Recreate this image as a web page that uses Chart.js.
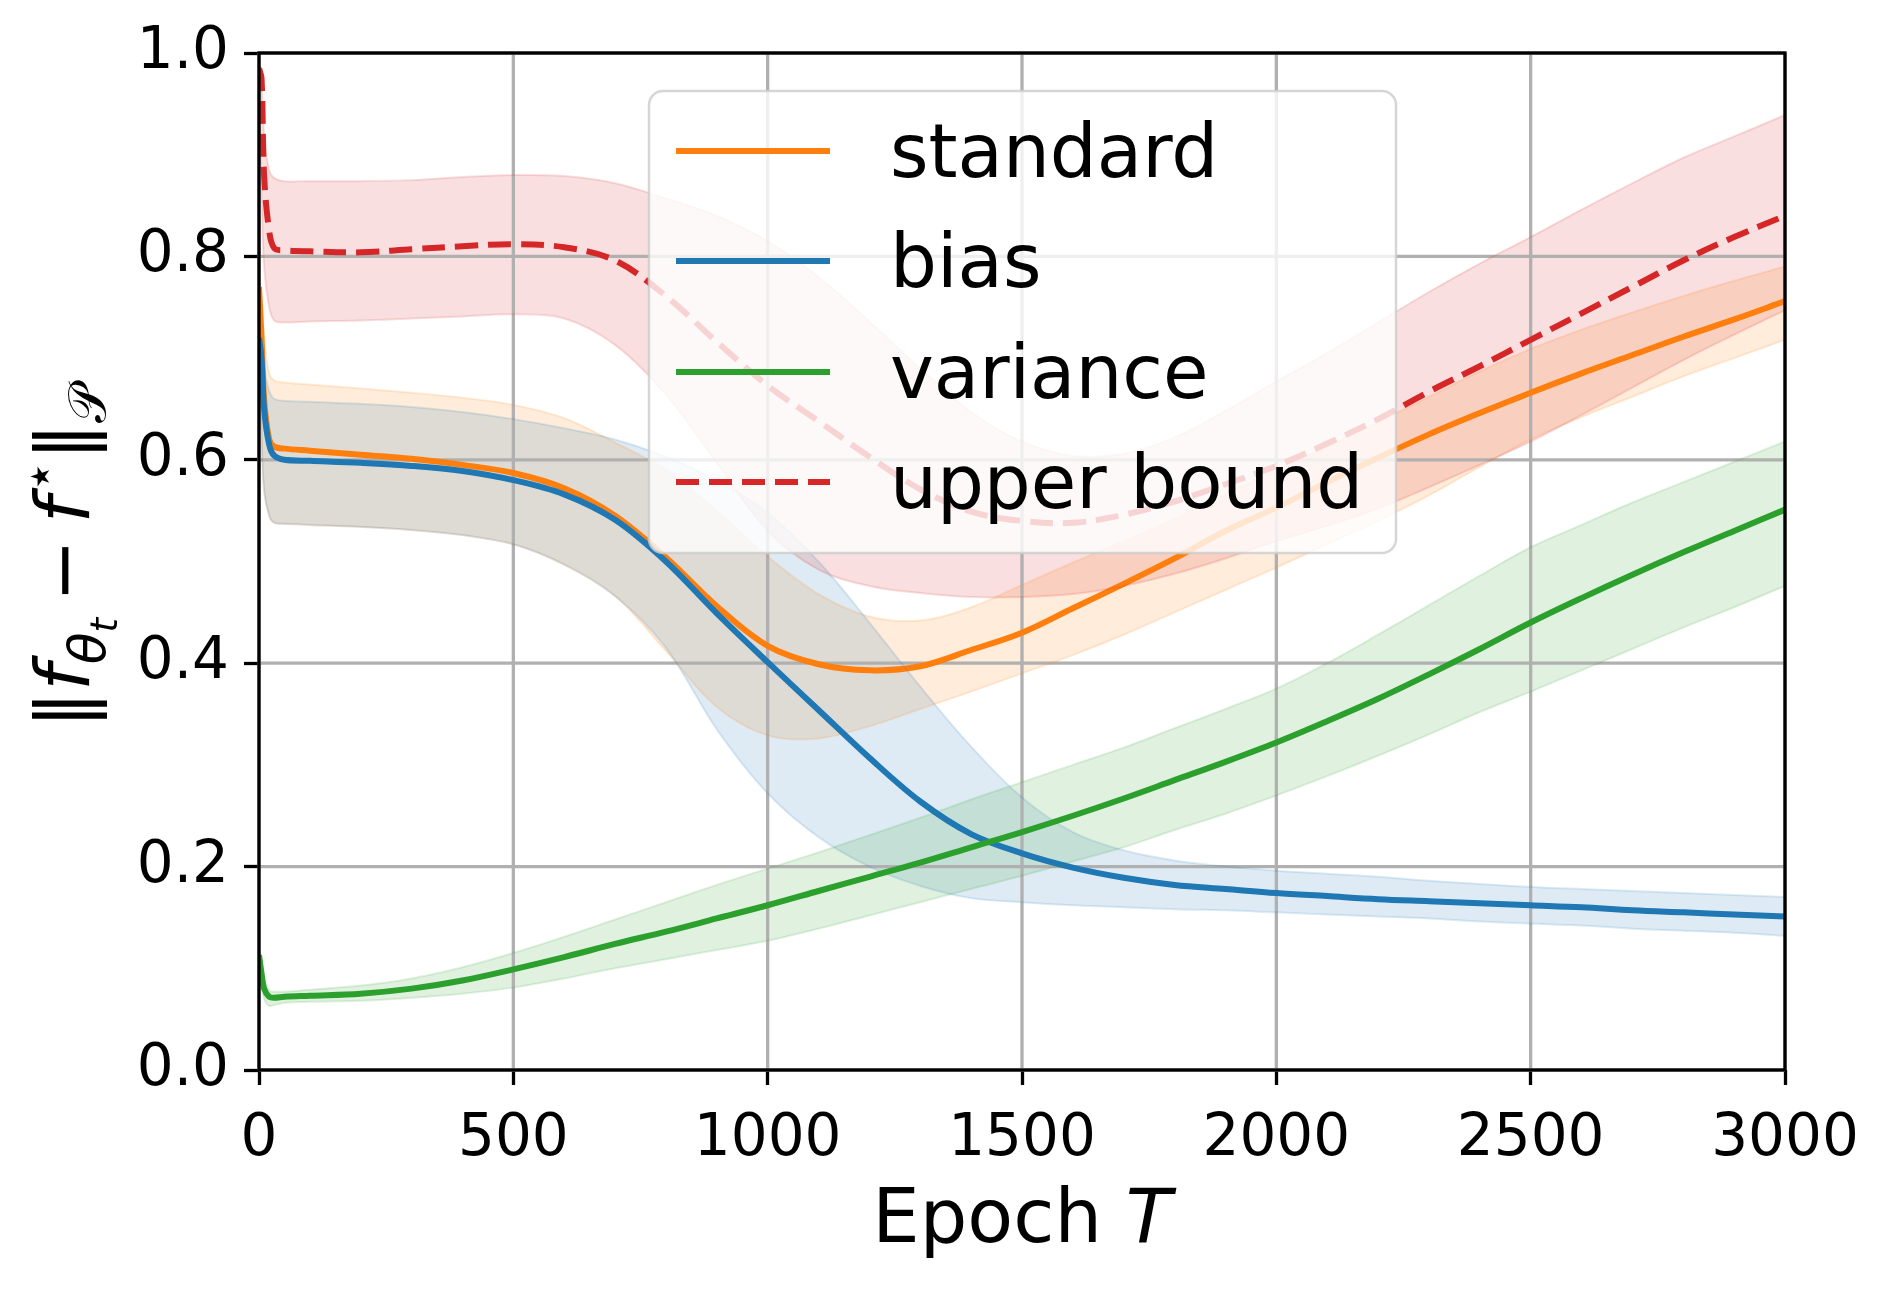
<!DOCTYPE html>
<html>
<head>
<meta charset="utf-8">
<script src="https://cdn.jsdelivr.net/npm/chart.js@4.4.0/dist/chart.umd.min.js"></script>
<style>
  html, body { margin: 0; padding: 0; background: #fff; }
</style>
</head>
<body>
<canvas id="myChart" width="1890" height="1290" style="width:1890px;height:1290px;display:block"></canvas>
<script>
// epochs shared by all curves
const epochs = [0, 5, 10, 20, 30, 50,
  100, 200, 300, 400, 500, 600, 700, 800, 900, 1000,
  1100, 1200, 1300, 1400, 1500, 1600, 1700, 1800, 1900, 2000,
  2100, 2200, 2300, 2400, 2500, 2600, 2700, 2800, 2900, 3000];

// standard
const standardMean = [0.77, 0.72, 0.66, 0.62, 0.613, 0.611,
  0.609, 0.605, 0.601, 0.595, 0.587, 0.572, 0.545, 0.504, 0.456, 0.417,
  0.399, 0.393, 0.397, 0.413, 0.43, 0.454, 0.478, 0.503, 0.53, 0.553,
  0.578, 0.602, 0.625, 0.646, 0.666, 0.685, 0.703, 0.721, 0.738, 0.756];
const standardHi = [0.78, 0.76, 0.72, 0.685, 0.678, 0.676,
  0.674, 0.670, 0.666, 0.661, 0.654, 0.641, 0.617, 0.59, 0.55, 0.505,
  0.468, 0.446, 0.442, 0.455, 0.477, 0.499, 0.52, 0.542, 0.566, 0.59,
  0.613, 0.637, 0.662, 0.687, 0.709, 0.728, 0.745, 0.761, 0.776, 0.79];
const standardLo = [0.76, 0.63, 0.57, 0.545, 0.538, 0.537,
  0.536, 0.534, 0.531, 0.526, 0.517, 0.497, 0.466, 0.412, 0.357, 0.329,
  0.326, 0.338, 0.355, 0.372, 0.39, 0.408, 0.428, 0.45, 0.472, 0.494,
  0.517, 0.54, 0.565, 0.593, 0.62, 0.642, 0.662, 0.682, 0.70, 0.718];

// bias
const biasMean = [0.72, 0.70, 0.65, 0.615, 0.604, 0.600,
  0.599, 0.597, 0.594, 0.589, 0.58, 0.566, 0.541, 0.50, 0.449, 0.401,
  0.354, 0.307, 0.264, 0.232, 0.213, 0.199, 0.189, 0.182, 0.178, 0.174,
  0.171, 0.168, 0.166, 0.164, 0.162, 0.16, 0.157, 0.155, 0.153, 0.151];
const biasHi = [0.73, 0.71, 0.69, 0.668, 0.66, 0.658,
  0.657, 0.655, 0.652, 0.647, 0.64, 0.631, 0.62, 0.603, 0.58, 0.548,
  0.50, 0.44, 0.377, 0.318, 0.268, 0.234, 0.216, 0.206, 0.2, 0.196,
  0.193, 0.19, 0.186, 0.183, 0.18, 0.178, 0.176, 0.174, 0.172, 0.17];
const biasLo = [0.70, 0.62, 0.57, 0.545, 0.538, 0.537,
  0.536, 0.534, 0.531, 0.526, 0.517, 0.497, 0.466, 0.415, 0.335, 0.272,
  0.229, 0.2, 0.181, 0.169, 0.165, 0.162, 0.16, 0.158, 0.157, 0.155,
  0.153, 0.151, 0.149, 0.146, 0.144, 0.142, 0.139, 0.137, 0.135, 0.132];

// variance
const varianceMean = [0.113, 0.095, 0.08, 0.072, 0.071, 0.072,
  0.073, 0.075, 0.08, 0.088, 0.099, 0.111, 0.124, 0.136, 0.149, 0.162,
  0.176, 0.19, 0.204, 0.219, 0.234, 0.25, 0.267, 0.285, 0.303, 0.322,
  0.343, 0.365, 0.389, 0.414, 0.44, 0.464, 0.487, 0.509, 0.53, 0.551];
const varianceHi = [0.12, 0.105, 0.09, 0.078, 0.077, 0.077,
  0.079, 0.083, 0.09, 0.101, 0.115, 0.131, 0.148, 0.165, 0.182, 0.198,
  0.214, 0.231, 0.248, 0.266, 0.283, 0.3, 0.317, 0.336, 0.355, 0.375,
  0.4, 0.428, 0.457, 0.486, 0.514, 0.536, 0.558, 0.578, 0.598, 0.618];
const varianceLo = [0.11, 0.085, 0.07, 0.063, 0.064, 0.066,
  0.067, 0.068, 0.071, 0.075, 0.081, 0.09, 0.1, 0.109, 0.118, 0.127,
  0.139, 0.152, 0.165, 0.178, 0.191, 0.205, 0.219, 0.236, 0.252, 0.27,
  0.289, 0.309, 0.33, 0.352, 0.372, 0.393, 0.414, 0.435, 0.455, 0.476];

// upper bound
const boundMean = [0.985, 0.975, 0.88, 0.825, 0.808, 0.806,
  0.805, 0.804, 0.807, 0.81, 0.812, 0.809, 0.796, 0.761, 0.716, 0.673,
  0.638, 0.603, 0.571, 0.549, 0.54, 0.538, 0.546, 0.559, 0.576, 0.594,
  0.616, 0.64, 0.667, 0.692, 0.718, 0.744, 0.77, 0.796, 0.819, 0.84];
const boundHi = [1.0, 0.97, 0.92, 0.885, 0.877, 0.874,
  0.874, 0.874, 0.875, 0.878, 0.88, 0.879, 0.872, 0.857, 0.84, 0.815,
  0.78, 0.736, 0.69, 0.647, 0.618, 0.604, 0.606, 0.622, 0.648, 0.677,
  0.705, 0.735, 0.765, 0.793, 0.819, 0.846, 0.872, 0.897, 0.918, 0.939];
const boundLo = [0.95, 0.86, 0.79, 0.75, 0.737, 0.735,
  0.736, 0.737, 0.739, 0.741, 0.743, 0.739, 0.713, 0.664, 0.597, 0.53,
  0.492, 0.476, 0.469, 0.465, 0.465, 0.468, 0.476, 0.488, 0.503, 0.52,
  0.535, 0.552, 0.573, 0.595, 0.618, 0.644, 0.671, 0.698, 0.723, 0.747];

const seriesNames = ["standard", "bias", "variance", "upper bound"];
const xTicks = [0, 500, 1000, 1500, 2000, 2500, 3000];
const xTickLabels = ["0", "500", "1000", "1500", "2000", "2500", "3000"];
const yTicks = [0, 0.2, 0.4, 0.6, 0.8, 1.0];
const yTickLabels = ["0.0", "0.2", "0.4", "0.6", "0.8", "1.0"];

// styles (tab10 colours)
const seriesColors = ["255,127,14", "31,119,180", "44,160,44", "214,39,40"];
const seriesDash = [[], [], [], [23, 10]];

const FONT = "'DejaVu Sans', sans-serif";
Chart.defaults.font.family = FONT;

const toXY = arr => epochs.map((t, i) => ({ x: t, y: arr[i] }));

const allSeries = [
  [standardMean, standardLo, standardHi],
  [biasMean, biasLo, biasHi],
  [varianceMean, varianceLo, varianceHi],
  [boundMean, boundLo, boundHi],
];

const datasets = [];
allSeries.forEach((s, k) => {
  const c = seriesColors[k];
  const ord = 10 - k; // later series drawn on top, like matplotlib
  datasets.push({
    label: seriesNames[k] + " lo", data: toXY(s[1]), order: ord,
    borderColor: "rgba(" + c + ",0.15)", borderWidth: 2, pointRadius: 0, fill: false
  });
  datasets.push({
    label: seriesNames[k] + " hi", data: toXY(s[2]), order: ord,
    borderColor: "rgba(" + c + ",0.15)", borderWidth: 2, pointRadius: 0,
    fill: "-1", backgroundColor: "rgba(" + c + ",0.15)"
  });
  datasets.push({
    label: seriesNames[k], data: toXY(s[0]), order: ord,
    borderColor: "rgb(" + c + ")", borderWidth: 6, pointRadius: 0, fill: false,
    borderDash: seriesDash[k], borderCapStyle: "butt"
  });
});

function drawRuns(ctx, runs, x0, y0) {
  let x = x0;
  runs.forEach(r => {
    ctx.font = (r.italic ? "italic " : "") + r.size + "px " + FONT;
    x += r.padL || 0;
    ctx.fillText(r.text, x, y0 + (r.dy || 0));
    x += ctx.measureText(r.text).width + (r.padR || 0);
  });
}
function runsWidth(ctx, runs) {
  let w = 0;
  runs.forEach(r => {
    ctx.font = (r.italic ? "italic " : "") + r.size + "px " + FONT;
    w += (r.padL || 0) + ctx.measureText(r.text).width + (r.padR || 0);
  });
  return w;
}

const yLabelRuns = [
  { text: "\u2016", size: 75 },
  { text: "f", size: 75, italic: true },
  { text: "\u03b8", size: 52, italic: true, dy: 16 },
  { text: "t", size: 37, italic: true, dy: 28 },
  { text: "\u2212", size: 75, padL: 16, padR: 16 },
  { text: "f", size: 75, italic: true },
  { text: "\u22c6", size: 52, dy: -32, padL: 4 },
  { text: "\u2016", size: 75 },
  { text: "\ud835\udcab", size: 52, dy: 16 },
];
const xLabelRuns = [
  { text: "Epoch ", size: 75 },
  { text: "T", size: 75, italic: true },
];

const decorPlugin = {
  id: "decor",
  beforeDatasetsDraw(chart) {
    // grid above the bands, below the lines
    const { ctx, chartArea: a, scales } = chart;
    ctx.save();
    ctx.strokeStyle = "#b0b0b0";
    ctx.lineWidth = 3.3;
    xTicks.forEach(v => {
      const px = scales.x.getPixelForValue(v);
      ctx.beginPath(); ctx.moveTo(px, a.top); ctx.lineTo(px, a.bottom); ctx.stroke();
    });
    yTicks.forEach(v => {
      const py = scales.y.getPixelForValue(v);
      ctx.beginPath(); ctx.moveTo(a.left, py); ctx.lineTo(a.right, py); ctx.stroke();
    });
    ctx.restore();
  },
  afterDatasetsDraw(chart) {
    const { ctx, chartArea: a } = chart;
    ctx.save();
    ctx.strokeStyle = "#000";
    ctx.lineWidth = 3.3;
    ctx.strokeRect(a.left, a.top, a.right - a.left, a.bottom - a.top);
    ctx.restore();
  },
  afterDraw(chart) {
    const { ctx } = chart;
    ctx.save();
    // legend
    ctx.beginPath();
    ctx.roundRect(649, 91, 747, 462, 14);
    ctx.fillStyle = "rgba(255,255,255,0.8)";
    ctx.fill();
    ctx.strokeStyle = "rgba(204,204,204,0.8)";
    ctx.lineWidth = 2.5;
    ctx.stroke();
    const rowY = [151, 261, 372, 482];
    seriesNames.forEach((name, k) => {
      ctx.beginPath();
      ctx.strokeStyle = "rgb(" + seriesColors[k] + ")";
      ctx.lineWidth = 6;
      ctx.setLineDash(seriesDash[k]);
      ctx.moveTo(676, rowY[k]); ctx.lineTo(830, rowY[k]);
      ctx.stroke();
      ctx.setLineDash([]);
      ctx.fillStyle = "#000";
      ctx.font = "74px " + FONT;
      ctx.textBaseline = "alphabetic";
      ctx.textAlign = "left";
      ctx.fillText(name, 890, rowY[k] + 26);
    });
    // x axis title
    ctx.fillStyle = "#000";
    ctx.textAlign = "left";
    ctx.textBaseline = "alphabetic";
    const xw = runsWidth(ctx, xLabelRuns);
    drawRuns(ctx, xLabelRuns, 1022 - xw / 2, 1242);
    // y axis title (rotated)
    ctx.translate(89, 557);
    ctx.rotate(-Math.PI / 2);
    const yw = runsWidth(ctx, yLabelRuns);
    drawRuns(ctx, yLabelRuns, -yw / 2, 0);
    ctx.restore();
  }
};

const ctx = document.getElementById("myChart").getContext("2d");
const myChart = new Chart(ctx, {
  type: "line",
  data: { datasets: datasets },
  options: {
    responsive: false,
    animation: false,
    devicePixelRatio: 1,
    layout: { padding: { top: 53, right: 105, left: 0, bottom: 0 } },
    elements: { line: { tension: 0.35, capBezierPoints: true }, point: { radius: 0 } },
    plugins: {
      legend: { display: false },
      tooltip: { enabled: false },
      filler: { drawTime: "beforeDatasetsDraw", propagate: false }
    },
    scales: {
      x: {
        type: "linear", min: 0, max: 3000,
        afterBuildTicks: s => { s.ticks = xTicks.map(v => ({ value: v })); },
        afterFit: s => { s.height = 220; },
        border: { display: false },
        grid: { drawOnChartArea: false, drawTicks: true, tickLength: 15, tickWidth: 3.3, tickColor: "#000" },
        ticks: {
          autoSkip: false, maxRotation: 0, padding: 20, color: "#000",
          font: { size: 58, family: FONT },
          callback: (v, i) => xTickLabels[i]
        }
      },
      y: {
        type: "linear", min: 0, max: 1,
        afterBuildTicks: s => { s.ticks = yTicks.map(v => ({ value: v })); },
        afterFit: s => { s.width = 259; },
        border: { display: false },
        grid: { drawOnChartArea: false, drawTicks: true, tickLength: 15, tickWidth: 3.3, tickColor: "#000" },
        ticks: {
          padding: 15, color: "#000",
          font: { size: 58, family: FONT },
          callback: (v, i) => yTickLabels[i]
        }
      }
    }
  },
  plugins: [decorPlugin]
});
</script>
</body>
</html>
